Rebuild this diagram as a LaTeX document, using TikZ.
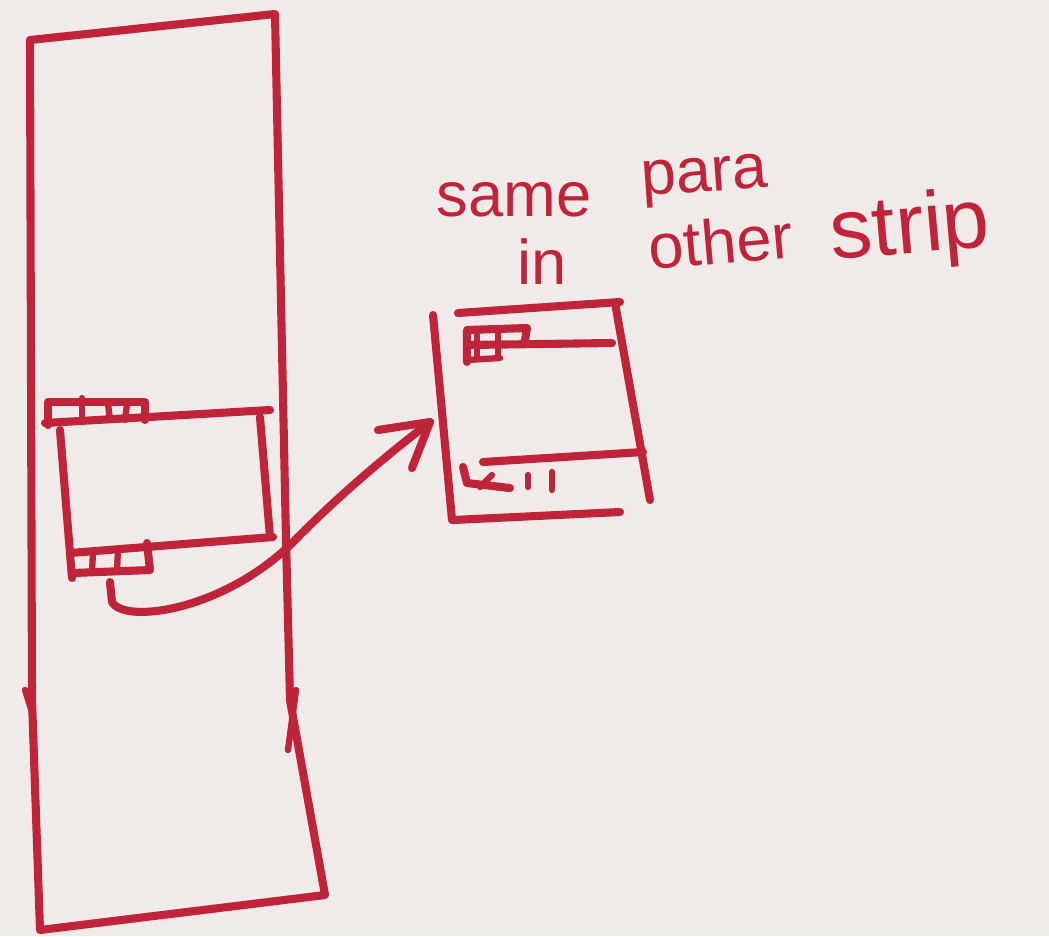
\documentclass[tikz,border=0pt]{standalone}
\usepackage{fontspec}
\setmainfont{Liberation Sans}
\definecolor{ink}{RGB}{192,36,58}
\definecolor{paper}{RGB}{240,235,233}
\begin{document}
\begin{tikzpicture}[x=0.01cm,y=-0.01cm,
  pen/.style={draw=ink,line width=2.3pt,line cap=round,line join=round},
  thin/.style={draw=ink,line width=1.8pt,line cap=round},
  lbl/.style={text=ink,font=\fontsize{18}{20}\selectfont,inner sep=0pt,anchor=base west}]
\fill[paper] (0,0) rectangle (1049,936);
\useasboundingbox (0,0) rectangle (1049,936);
% tall strip
\draw[pen] (30,40) -- (275,14) -- (286,540) -- (290,700) -- (325,895) -- (40,930) -- (32,700) -- (30,40);
\draw[thin] (25,690) -- (32,712);
\draw[thin] (296,690) -- (288,750);
% inner box in strip
\draw[pen] (45,423) -- (270,410);
\draw[pen] (60,430) -- (72,578);
\draw[pen] (260,417) -- (270,537);
\draw[pen] (70,553) -- (273,537);
\draw[pen] (48,425) -- (48,402) -- (145,402) -- (145,420);
\draw[thin] (82,398) -- (82,416); \draw[thin] (108,404) -- (110,420); \draw[thin] (127,404) -- (125,420);
\draw[pen] (73,573) -- (150,570) -- (147,543);
\draw[thin] (93,552) -- (92,572); \draw[thin] (118,550) -- (117,570);
% curved arrow
\coordinate (src) at (110,582);
\coordinate (dst) at (430,422);
\draw[pen] (src) -- (112,602) .. controls (125,625) and (230,610) .. (300,535) .. controls (350,485) and (400,445) .. (dst);
\draw[pen] (378,430) -- (dst) -- (412,468);
% right box
\draw[pen] (433,315) -- (452,520);
\draw[pen] (458,313) -- (620,302);
\draw[pen] (615,303) -- (650,500);
\draw[pen] (453,520) -- (620,512);
\draw[pen] (467,345) -- (612,343);
\draw[pen] (467,362) -- (467,330) -- (527,328) -- (525,340);
\draw[thin] (467,360) -- (500,358);
\draw[thin] (477,335) -- (477,358); \draw[thin] (498,333) -- (498,356);
\draw[pen] (483,462) -- (643,452);
\draw[pen] (463,467) -- (467,483) -- (510,488);
\draw[thin] (492,475) -- (480,487);
\draw[thin] (528,475) -- (528,487); \draw[thin] (552,472) -- (552,490);
% text
\node[lbl] (same) at (436,216) {same};
\node[lbl,rotate=4] (para) at (642,196) {para};
\node[lbl] (in) at (517,284) {in};
\node[lbl,rotate=5] (other) at (650,270) {other};
\node[lbl,rotate=5,font=\fontsize{24}{26}\selectfont] (strip) at (832,260) {strip};
\end{tikzpicture}
\end{document}
